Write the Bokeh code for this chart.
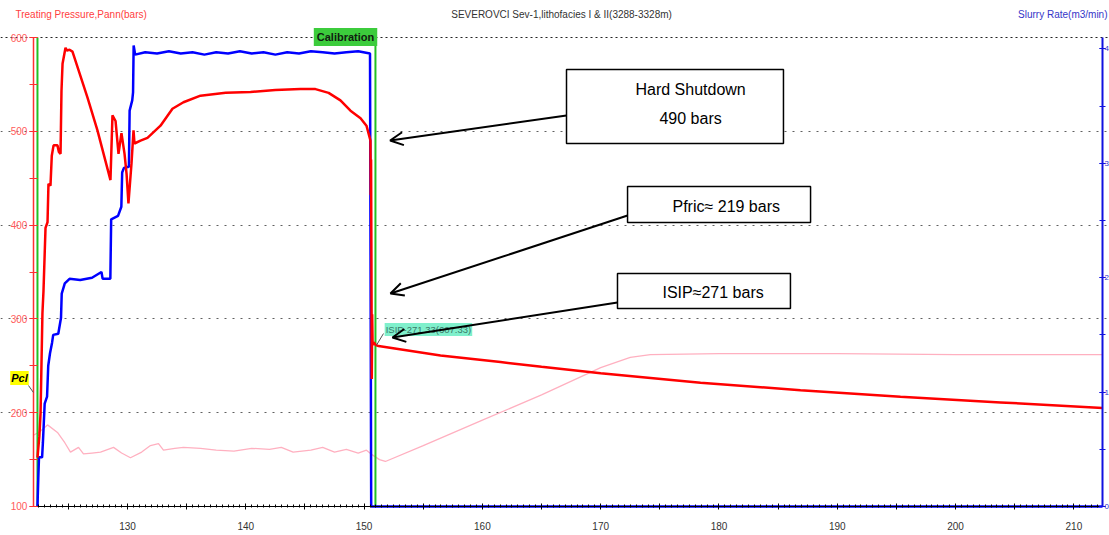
from bokeh.plotting import figure
from bokeh.models import (Range1d, LinearAxis, SingleIntervalTicker, FixedTicker, Grid,
                          Label, BoxAnnotation, Arrow, OpenHead)
from bokeh.embed import file_html
from bokeh.resources import INLINE

FONT = "Liberation Sans"

# Treating pressure, Pann (bar) against time (min)
p_time = [122.39, 122.55, 122.65, 122.81, 122.90, 123.07, 123.24, 123.32, 123.49, 123.60,
          123.75, 124.08, 124.20, 124.34, 124.42, 124.51, 124.76, 124.90, 125.10, 125.35,
          126.62, 127.46, 128.56, 128.73, 128.99, 129.24, 129.49, 129.75, 129.92, 130.08,
          130.34, 130.51, 130.59, 131.10, 131.69, 132.79, 133.80, 134.73, 136.17, 138.30,
          140.40, 142.50, 144.62, 145.89, 147.00, 148.00, 148.85, 149.70, 150.20, 150.54,
          150.56, 150.59, 150.62, 150.65, 150.68, 150.72, 150.80, 151.00, 151.22, 156.46,
          161.53, 165.00, 170.00, 178.44, 186.89, 195.34, 203.80, 212.42]
p_bar = [152, 175, 199, 306, 330, 397, 403, 444, 442, 474,
         485, 485, 478, 476, 543, 572, 589, 586, 587, 585,
         536, 501, 448, 517, 511, 476, 498, 476, 455, 423,
         466, 501, 487, 490, 493, 506, 524, 531, 538, 541,
         542, 544, 545, 545, 541, 533, 522, 514, 506, 490,
         432, 470, 365, 236, 305, 272, 275, 272, 271, 261,
         254, 249, 242, 232, 224, 217, 211, 205]

# Slurry rate (m3/min)
r_time = [122.39, 122.46, 122.52, 122.78, 122.85, 123.00, 123.20, 123.30, 123.45, 123.62,
          123.72, 124.15, 124.38, 124.44, 124.70, 125.10, 126.00, 127.00, 127.80, 127.90,
          128.00, 128.55, 128.62, 129.20, 129.48, 129.55, 129.70, 130.12, 130.18, 130.40,
          130.47, 130.52, 130.65, 131.50, 132.50, 133.50, 134.50, 135.50, 136.50, 137.50,
          138.50, 139.50, 140.50, 141.50, 142.50, 143.50, 144.50, 145.50, 146.50, 147.50,
          148.50, 149.50, 150.50, 150.60, 212.42]
r_rate = [0.00, 0.25, 0.43, 0.43, 0.56, 0.90, 0.96, 1.23, 1.34, 1.43,
          1.50, 1.51, 1.65, 1.86, 1.95, 1.99, 1.98, 2.00, 2.05, 1.99,
          1.99, 1.99, 2.51, 2.54, 2.62, 2.92, 2.96, 2.97, 3.46, 3.55,
          3.62, 4.03, 3.95, 3.97, 3.96, 3.98, 3.96, 3.97, 3.95, 3.97,
          3.96, 3.98, 3.96, 3.97, 3.95, 3.97, 3.96, 3.98, 3.97, 3.96,
          3.97, 3.98, 3.96, 0.00, 0.00]

# Bottomhole pressure trace (bar)
b_time = [122.05, 122.60, 123.24, 124.08, 124.70, 125.18, 125.86, 126.28, 127.00, 127.72,
          128.82, 129.50, 130.25, 131.20, 131.94, 132.62, 133.04, 134.00, 134.73, 136.17,
          137.50, 139.00, 140.50, 142.00, 143.00, 144.00, 145.50, 146.50, 147.50, 148.50,
          149.50, 150.20, 150.70, 151.30, 151.80, 155.00, 160.00, 165.00, 170.00, 172.50,
          174.20, 180.00, 190.00, 200.00, 212.42]
b_val = [176, 180, 187, 179, 168, 158, 163, 156, 157, 158,
         163, 157, 152, 158, 165, 167, 160, 162, 163, 162,
         160, 159, 162, 161, 163, 158, 160, 163, 158, 161,
         157, 160, 155, 150, 148, 165, 192, 219, 248, 259,
         262, 263, 263, 262, 262]

# Event markers: pump start and calibration shut-in
event_times = [122.39, 150.96]

# axis extents (time in min, pressure in bar, rate in m3/min)
T0, T1 = 122.05, 212.42
P0, P1 = 100, 600
R0, R1 = 0.0, 4.1

# the frame fills the whole canvas; axes are pinned at the chart edges
p = figure(width=1109, height=535, output_backend="svg", toolbar_location=None,
           x_axis_type=None, y_axis_type=None,
           x_range=Range1d(119.265, 213.01), y_range=Range1d(69.08, 639.45),
           min_border=0, min_border_left=0, min_border_right=0,
           min_border_top=0, min_border_bottom=0,
           background_fill_color="white", border_fill_color="white")
p.outline_line_color = None
p.extra_y_ranges = {"rate": Range1d(-0.2535, 4.423)}

p.add_layout(Grid(dimension=1, ticker=FixedTicker(ticks=[200, 300, 400, 500]),
                  bounds=(T0, T1), grid_line_color="#606060",
                  grid_line_dash="2 6", grid_line_width=1.2))
p.add_layout(Grid(dimension=1, ticker=FixedTicker(ticks=[P1]),
                  bounds=(T0, T1), grid_line_color="#222222",
                  grid_line_dash="2 3", grid_line_width=1.2))

# left pressure axis
ya = LinearAxis(fixed_location=T0, bounds=(P0, P1),
                ticker=SingleIntervalTicker(interval=100, num_minor_ticks=2),
                axis_line_color="#ff3030", axis_line_width=1.5,
                major_tick_line_color="#ff3030", minor_tick_line_color="#ff3030",
                major_tick_in=4, major_tick_out=4, minor_tick_in=4, minor_tick_out=4,
                major_label_text_color="#ff5a5a", major_label_text_font=FONT,
                major_label_text_font_size="10px", major_label_standoff=2)
p.add_layout(ya, "left")

# bottom time axis
xa = LinearAxis(fixed_location=P0, bounds=(T0, T1),
                ticker=SingleIntervalTicker(interval=5, num_minor_ticks=10),
                major_label_overrides={v: "" for v in range(125, 215, 10)},
                axis_line_color="black", axis_line_width=1.2,
                major_tick_line_color="black", minor_tick_line_color="black",
                major_tick_in=3, major_tick_out=3, minor_tick_in=2, minor_tick_out=1,
                major_label_text_color="#333333", major_label_text_font=FONT,
                major_label_text_font_size="10px", major_label_standoff=13)
p.add_layout(xa, "below")

# right slurry-rate axis
ra = LinearAxis(y_range_name="rate", fixed_location=T1, bounds=(R0, R1),
                ticker=SingleIntervalTicker(interval=1, num_minor_ticks=2),
                axis_line_color="#1010e0", axis_line_width=2,
                major_tick_line_color="#1010e0", minor_tick_line_color="#1010e0",
                major_tick_in=3, major_tick_out=3, minor_tick_in=3, minor_tick_out=3,
                major_label_text_color="#3030d0", major_label_text_font=FONT,
                major_label_text_font_size="8px", major_label_standoff=-1)
p.add_layout(ra, "right")

# curves
p.line(b_time, b_val, color="#ffb0c0", line_width=1.3)
p.segment(x0=event_times, y0=P0, x1=event_times, y1=P1, color="#22c022", line_width=2)
p.line(r_time, r_rate, y_range_name="rate", color="#0000ff", line_width=2.5)
p.line(p_time, p_bar, color="#ff0000", line_width=2.5)

# header texts
p.add_layout(Label(x=120.53, y=624.5, text="Treating Pressure,Pann(bars)", text_color="#ff4040",
                   text_font=FONT, text_font_size="10px", text_baseline="middle"))
p.add_layout(Label(x=166.69, y=624.5, text="SEVEROVCI Sev-1,lithofacies I & II(3288-3328m)",
                   text_color="#333333", text_font=FONT, text_font_size="10px",
                   text_align="center", text_baseline="middle"))
p.add_layout(Label(x=212.84, y=624.5, text="Slurry Rate(m3/min)", text_color="#3535c8",
                   text_font=FONT, text_font_size="10px", text_align="right",
                   text_baseline="middle"))

# tags on the chart
p.add_layout(Label(x=148.43, y=600.5, text="Calibration", text_color="#102010",
                   text_font=FONT, text_font_size="11px", text_font_style="bold",
                   text_align="center", text_baseline="middle",
                   background_fill_color="#3ccc3c", padding=3))
p.add_layout(Arrow(x_start=121.63, y_start=229, x_end=122.05, y_end=221.5, end=None,
                   line_color="#555555", line_width=1))
p.add_layout(Label(x=120.87, y=237, text="Pcl", text_color="black", text_font=FONT,
                   text_font_size="11px", text_font_style="bold italic",
                   text_align="center", text_baseline="middle",
                   background_fill_color="#ffff00", padding=1))
p.add_layout(Arrow(x_start=151.64, y_start=284.4, x_end=151.05, y_end=272, end=None,
                   line_color="#555555", line_width=1))
p.add_layout(Label(x=155.44, y=288.7, text="ISIP-271.33(607.33)", text_color="#3a7868",
                   text_font=FONT, text_font_size="9.5px", text_align="center",
                   text_baseline="middle", background_fill_color="#80f0cc", padding=1))

# callout boxes with arrows
boxes = [
    (167.11, 185.45, 487.0, 565.9),
    (172.27, 187.74, 402.8, 441.2),
    (171.42, 186.04, 311.1, 348.4),
]
for left, right, bottom, topv in boxes:
    p.add_layout(BoxAnnotation(left=left, right=right, bottom=bottom, top=topv,
                               fill_color="white", fill_alpha=1.0,
                               line_color="black", line_width=1.5, line_alpha=1.0))

callout_texts = [
    (177.6, 544.6, "Hard Shutdown", "center"),
    (177.6, 513.6, "490 bars", "center"),
    (176.07, 419.8, "Pfric\u2248 219 bars", "left"),
    (175.22, 328.1, "ISIP\u2248271 bars", "left"),
]
for x, y, txt, align in callout_texts:
    p.add_layout(Label(x=x, y=y, text=txt, text_color="black", text_font=FONT,
                       text_font_size="16px", text_align=align, text_baseline="middle"))

arrows = [
    (167.11, 516.8, 152.2, 490.2),
    (172.27, 410.2, 152.23, 327.1),
    (171.42, 317.5, 152.4, 280.2),
]
for xs, ys, xe, ye in arrows:
    p.add_layout(Arrow(x_start=xs, y_start=ys, x_end=xe, y_end=ye,
                       line_color="black", line_width=2,
                       end=OpenHead(size=13, line_color="black", line_width=2)))

open("out.html", "w").write(file_html(p, INLINE))
